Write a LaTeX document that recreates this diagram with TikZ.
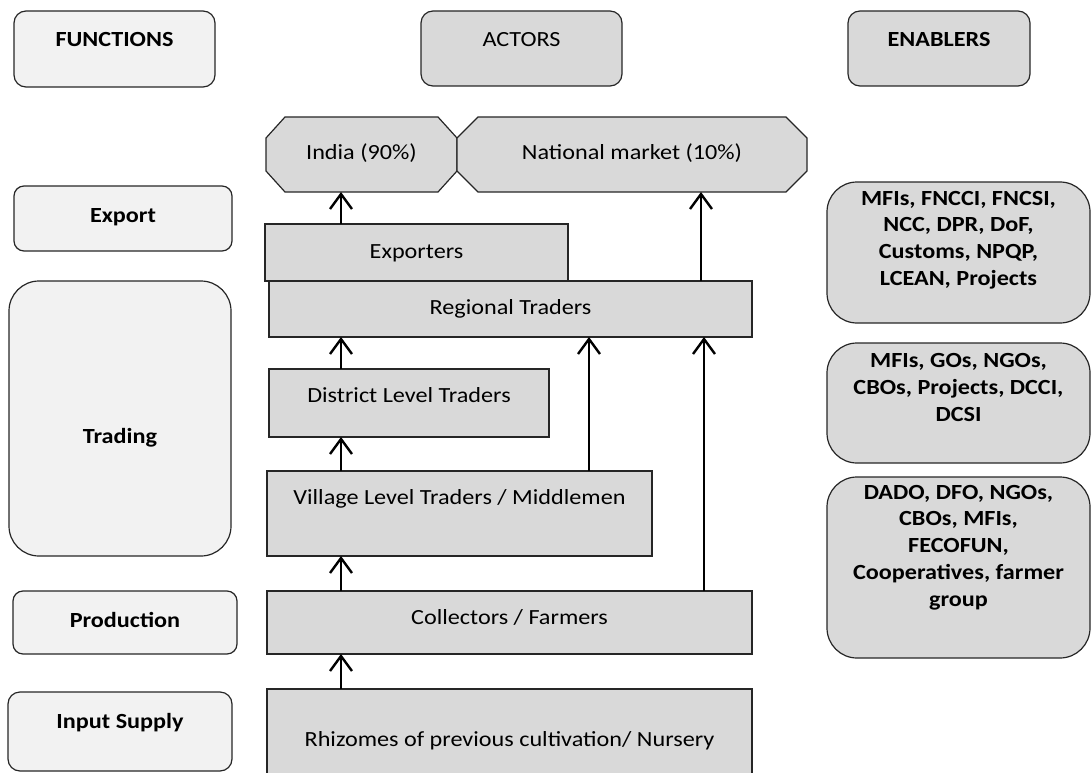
\documentclass[tikz,border=0pt]{standalone}
\usepackage{fontspec}
\setmainfont{Carlito}[FakeStretch=1.12]
\usetikzlibrary{arrows.meta,calc}
\definecolor{fnfill}{HTML}{F2F2F2}
\definecolor{acfill}{HTML}{D9D9D9}
\definecolor{edge}{HTML}{262626}

\begin{document}
\begin{tikzpicture}[x=1pt,y=-1pt,
  every node/.style={inner sep=0pt,outer sep=0pt},
  txt/.style={font=\fontsize{21.6}{26.8}\selectfont, anchor=base},
  btxt/.style={font=\fontsize{21.6}{26.8}\selectfont\bfseries, anchor=base},
  shapebox/.style={draw=edge, line width=1.2pt, anchor=north west},
  fnbox/.style={shapebox, fill=fnfill, rounded corners=#1},
  acbox/.style={shapebox, fill=acfill, rounded corners=#1},
  actor/.style={shapebox, fill=acfill},
  oct/.style={draw=edge, line width=1.2pt, fill=acfill},
  arr/.style={line width=2.4pt, -{Straight Barb[length=15pt,width=22pt]}},
]
\useasboundingbox (0,0) rectangle (1092,773);
\clip (0,0) rectangle (1092,773);

% ---------- column headers ----------
\node[fnbox=12, minimum width=201pt, minimum height=76pt] (fun) at (14,11) {};
\node[btxt] (funT) at (114.5,47) {FUNCTIONS};
\node[acbox=12, minimum width=201pt, minimum height=75pt] (act) at (421,11) {};
\node[txt] (actT) at (521.5,47) {ACTORS};
\node[acbox=12, minimum width=182pt, minimum height=75pt] (ena) at (848,11) {};
\node[btxt] (enaT) at (939,47) {ENABLERS};

% ---------- functions ----------
\node[fnbox=10, minimum width=218pt, minimum height=65pt] (fexp) at (14,186) {};
\node[btxt] (fexpT) at (123,222) {Export};
\node[fnbox=30, minimum width=222pt, minimum height=275pt] (ftrd) at (9,281) {};
\node[btxt] (ftrdT) at (120,443) {Trading};
\node[fnbox=10, minimum width=224pt, minimum height=63pt] (fprd) at (13,591) {};
\node[btxt] (fprdT) at (125,627) {Production};
\node[fnbox=12, minimum width=224pt, minimum height=79pt] (finp) at (8,692) {};
\node[btxt] (finpT) at (120,728) {Input Supply};

% ---------- markets (octagons) ----------
\coordinate (indNW) at (266,117);
\coordinate (indSE) at (457,192);
\coordinate (natNW) at (457,117);
\coordinate (natSE) at (807,192);
\draw[oct] ($(indNW)+(19,0)$) -- ($(indNW-|indSE)+(-19,0)$) -- ($(indNW-|indSE)+(0,21)$)
  -- ($(indSE)+(0,-21)$) -- ($(indSE)+(-19,0)$) -- ($(indSE-|indNW)+(19,0)$)
  -- ($(indSE-|indNW)+(0,-21)$) -- ($(indNW)+(0,21)$) -- cycle;
\draw[oct] ($(natNW)+(21,0)$) -- ($(natNW-|natSE)+(-21,0)$) -- ($(natNW-|natSE)+(0,21)$)
  -- ($(natSE)+(0,-21)$) -- ($(natSE)+(-21,0)$) -- ($(natSE-|natNW)+(21,0)$)
  -- ($(natSE-|natNW)+(0,-21)$) -- ($(natNW)+(0,21)$) -- cycle;
\node[txt] (india) at (361.5,160) {India (90\%)};
\node[txt] (natmkt) at (632,160) {National market (10\%)};

% ---------- actors ----------
\node[actor, minimum width=303pt, minimum height=57pt] (exporters) at (265,224) {};
\node[txt] (exportersT) at (416.5,258) {Exporters};
\node[actor, minimum width=483pt, minimum height=56pt] (regional) at (269,281) {};
\node[txt] (regionalT) at (510.5,314) {Regional Traders};
\node[actor, minimum width=280pt, minimum height=68pt] (district) at (269,369) {};
\node[txt] (districtT) at (409,402) {District Level Traders};
\node[actor, minimum width=385pt, minimum height=85pt] (village) at (267,471) {};
\node[txt] (villageT) at (459.5,504) {Village Level Traders / Middlemen};
\node[actor, minimum width=485pt, minimum height=63pt] (collectors) at (267,591) {};
\node[txt] (collectorsT) at (509.5,624) {Collectors / Farmers};
\node[actor, minimum width=485pt, minimum height=100pt] (rhizomes) at (267,689) {};
\node[txt] (rhizomesT) at (509.5,746) {Rhizomes of previous cultivation/ Nursery};

% ---------- enablers ----------
\node[acbox=30, minimum width=263pt, minimum height=141pt] (en1) at (827,182) {};
\node[btxt, anchor=center, align=center] (en1T) at (958.5,240)
  {MFIs, FNCCI, FNCSI,\\NCC, DPR, DoF,\\Customs, NPQP,\\LCEAN, Projects};
\node[acbox=30, minimum width=263pt, minimum height=120pt] (en2) at (827,343) {};
\node[btxt, anchor=center, align=center] (en2T) at (958.5,387.5)
  {MFIs, GOs, NGOs,\\CBOs, Projects, DCCI,\\DCSI};
\node[acbox=30, minimum width=263pt, minimum height=181pt] (en3) at (827,477) {};
\node[btxt, anchor=center, align=center] (en3T) at (958.5,547.5)
  {DADO, DFO, NGOs,\\CBOs, MFIs,\\FECOFUN,\\Cooperatives, farmer\\group};

% ---------- flows ----------
\coordinate (colA) at (341,0);
\coordinate (colB) at (589,0);
\coordinate (colC) at (701,0);
\coordinate (colD) at (704,0);
\draw[arr] (colA |- exporters.north) -- (colA |- indSE);
\draw[arr] (colC |- regional.north) -- (colC |- natSE);
\draw[arr] (colA |- district.north) -- (colA |- regional.south);
\draw[arr] (colB |- village.north) -- (colB |- regional.south);
\draw[arr] (colD |- collectors.north) -- (colD |- regional.south);
\draw[arr] (colA |- village.north) -- (colA |- district.south);
\draw[arr] (colA |- collectors.north) -- (colA |- village.south);
\draw[arr] (colA |- rhizomes.north) -- (colA |- collectors.south);
\end{tikzpicture}
\end{document}
